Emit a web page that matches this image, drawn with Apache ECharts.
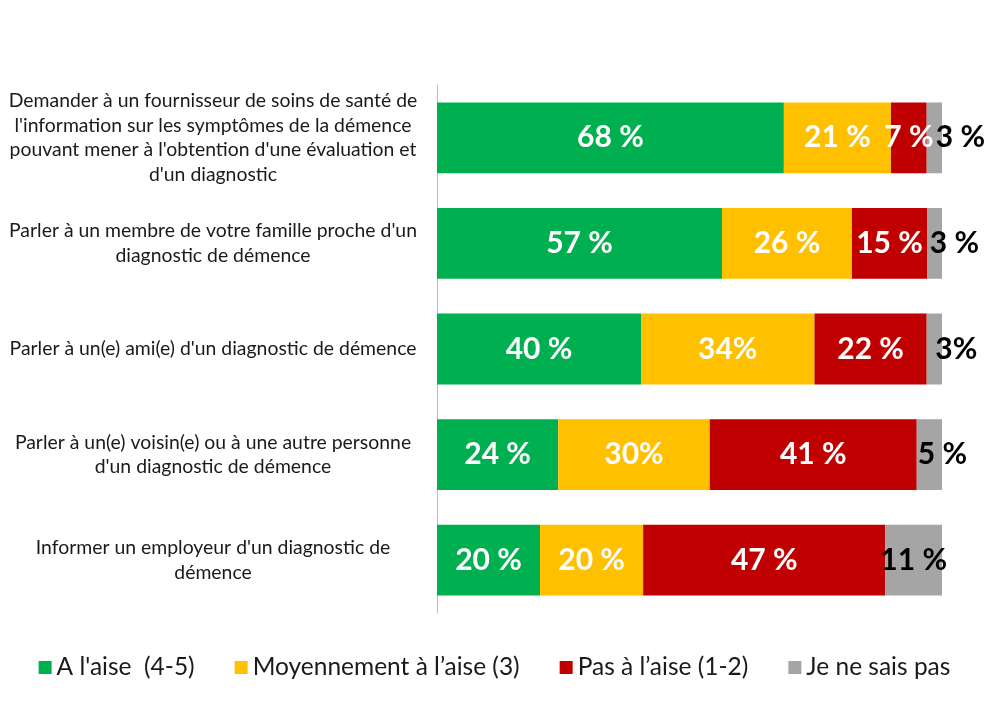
<!DOCTYPE html>
<html>
<head>
<meta charset="utf-8">
<script src="https://cdn.jsdelivr.net/npm/echarts@6/dist/echarts.min.js"></script>
<style>html,body{margin:0;padding:0;background:#fff;}#c{width:989px;height:710px;}</style>
</head>
<body>
<div id="c"></div>
<script>
const categories = [
  "Demander à un fournisseur de soins de santé de\nl'information sur les symptômes de la démence\npouvant mener à l'obtention d'une évaluation et\nd'un diagnostic",
  "Parler à un membre de votre famille proche d'un\ndiagnostic de démence",
  "Parler à un(e) ami(e) d'un diagnostic de démence",
  "Parler à un(e) voisin(e) ou à une autre personne\nd'un diagnostic de démence",
  "Informer un employeur d'un diagnostic de\ndémence"
];
const seriesNames = ["A l'aise  (4-5)", "Moyennement à l’aise (3)", "Pas à l’aise (1-2)", "Je ne sais pas"];
const aLaise = [68, 57, 40, 24, 20];
const moyennement = [21, 26, 34, 30, 20];
const pasALaise = [7, 15, 22, 41, 47];
const neSaisPas = [3, 3, 3, 5, 11];
const aLaiseLabels = ["68 %", "57 %", "40 %", "24 %", "20 %"];
const moyennementLabels = ["21 %", "26 %", "34%", "30%", "20 %"];
const pasALaiseLabels = ["7 %", "15 %", "22 %", "41 %", "47 %"];
const neSaisPasLabels = ["3 %", "3 %", "3%", "5 %", "11 %"];

const colors = ["#00B050", "#FFC000", "#C00000", "#A5A5A5"];
const grayOffsets = [26, 20, 22, 13, 0];

const allValues = [aLaise, moyennement, pasALaise, neSaisPas];
const allLabels = [aLaiseLabels, moyennementLabels, pasALaiseLabels, neSaisPasLabels];
const totals = categories.map((_, i) => allValues.reduce((s, arr) => s + arr[i], 0));

const labelFont = { fontFamily: 'Lato', fontWeight: 'bold', fontSize: 30 };

const series = allValues.map((vals, si) => ({
  name: seriesNames[si],
  type: 'bar',
  stack: 'total',
  barCategoryGap: '33%',
  itemStyle: { color: colors[si] },
  label: Object.assign({
    show: true,
    position: 'inside',
    color: si === 3 ? '#000' : '#fff',
    formatter: p => allLabels[si][p.dataIndex]
  }, labelFont),
  data: vals.map((v, i) => {
    const d = { value: v / totals[i] * 100 };
    if (si === 3) d.label = { offset: [grayOffsets[i], 0] };
    return d;
  })
}));

const chart = echarts.init(document.getElementById('c'), null, { renderer: 'canvas' });
chart.setOption({
  animation: false,
  textStyle: { fontFamily: 'Lato' },
  grid: { left: 437, right: 47, top: 85, bottom: 97 },
  xAxis: {
    type: 'value', min: 0, max: 100, show: false
  },
  yAxis: {
    type: 'category',
    inverse: true,
    data: categories,
    axisLine: { show: true, lineStyle: { color: '#BFBFBF', width: 1 } },
    axisTick: { show: false },
    splitLine: { show: false },
    axisLabel: {
      align: 'center',
      margin: 224,
      fontFamily: 'Lato',
      fontSize: 19.4,
      lineHeight: 24.5,
      color: '#1a1a1a'
    }
  },
  legend: {
    top: 650,
    left: 'center',
    itemWidth: 13,
    itemHeight: 13,
    itemGap: 40,
    icon: 'rect',
    textStyle: { fontFamily: 'Lato', fontSize: 24.5, color: '#1a1a1a' },
    data: seriesNames
  },
  series: series
});
</script>
</body>
</html>
